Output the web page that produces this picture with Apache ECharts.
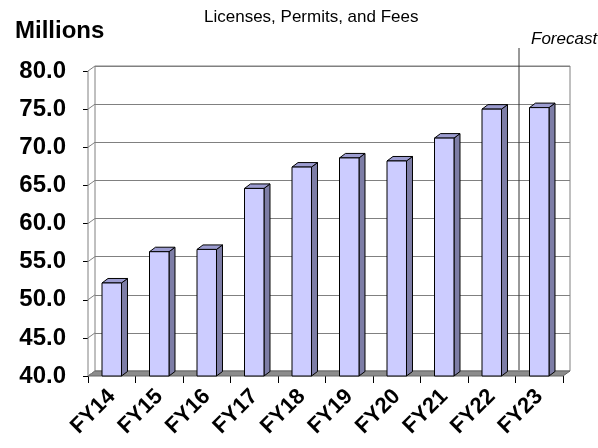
<!DOCTYPE html>
<html>
<head>
<meta charset="utf-8">
<script src="https://cdn.jsdelivr.net/npm/echarts@6/dist/echarts.min.js"></script>
<style>
  html, body { margin: 0; padding: 0; background: #fff; }
  #chart { width: 598px; height: 448px; }
</style>
</head>
<body>
<div id="chart"></div>
<script>
// data
const categories = ['FY14', 'FY15', 'FY16', 'FY17', 'FY18', 'FY19', 'FY20', 'FY21', 'FY22', 'FY23'];
const revenue = [52.2, 56.3, 56.6, 64.6, 67.4, 68.6, 68.2, 71.2, 75.0, 75.2];
const yTicks = [40, 45, 50, 55, 60, 65, 70, 75, 80];
const forecastAfter = 8; // line sits between FY22 and FY23

const FONT = 'Liberation Sans, Arial, sans-serif';
const DX = 7, DY = 5;      // wall depth
const BDX = 6, BDY = 4.5;  // bar depth

const barItem = (params, api) => {
  const top = api.coord([api.value(0), api.value(1)]);
  const base = api.coord([api.value(0), yTicks[0]]);
  const w = api.size([1, 0])[0] * 0.41;
  const l = top[0] - w / 2, r = l + w;
  const line = { stroke: '#000', lineWidth: 1 };
  return {
    type: 'group',
    children: [
      { type: 'polygon', shape: { points: [[r, top[1]], [r + BDX, top[1] - BDY], [r + BDX, base[1] - BDY], [r, base[1]]] },
        style: Object.assign({ fill: '#7d7da6' }, line) },
      { type: 'polygon', shape: { points: [[l, top[1]], [l + BDX, top[1] - BDY], [r + BDX, top[1] - BDY], [r, top[1]]] },
        style: Object.assign({ fill: '#9c9cd0' }, line) },
      { type: 'rect', shape: { x: l, y: top[1], width: w, height: base[1] - top[1] },
        style: Object.assign({ fill: '#ccccff' }, line) }
    ]
  };
};

const wallItem = (params, api) => {
  const cs = params.coordSys;
  const x0 = cs.x, x1 = cs.x + cs.width, yb = cs.y + cs.height;
  const kids = [];
  // floor
  kids.push({ type: 'polygon', shape: { points: [[x0, yb], [x1, yb], [x1 + DX, yb - DY], [x0 + DX, yb - DY]] },
    style: { fill: '#8c8c8c', stroke: '#666', lineWidth: 1 } });
  // left wall
  kids.push({ type: 'line', shape: { x1: x0, y1: cs.y, x2: x0, y2: yb }, style: { stroke: '#808080', lineWidth: 1 } });
  yTicks.forEach(v => {
    const y = api.coord([0, v])[1];
    kids.push({ type: 'line', shape: { x1: x0, y1: y, x2: x0 + DX, y2: y - DY }, style: { stroke: '#808080', lineWidth: 1 } });
  });
  // forecast divider
  const fx = api.coord([forecastAfter, 0])[0] + api.size([1, 0])[0] / 2 + DX / 2;
  kids.push({ type: 'line', shape: { x1: fx, y1: cs.y - 23, x2: fx, y2: yb - 6 }, style: { stroke: '#333', lineWidth: 1 } });
  return { type: 'group', children: kids };
};

const chart = echarts.init(document.getElementById('chart'));
chart.setOption({
  animation: false,
  backgroundColor: '#fff',
  title: [
    { text: 'Licenses, Permits, and Fees', left: 199, top: 4,
      textStyle: { fontFamily: FONT, fontSize: 17, fontWeight: 'normal', color: '#000' } },
    { text: 'Millions', left: 10, top: 14,
      textStyle: { fontFamily: FONT, fontSize: 24, fontWeight: 'bold', color: '#000' } },
    { text: 'Forecast', left: 526, top: 26,
      textStyle: { fontFamily: FONT, fontSize: 17, fontStyle: 'italic', fontWeight: 'normal', color: '#000' } }
  ],
  grid: [
    // back wall
    { left: 95, top: 66, width: 475, height: 305, show: true, backgroundColor: '#fff', borderColor: '#808080', borderWidth: 1 },
    // front plane
    { left: 88, top: 71, width: 475, height: 305 }
  ],
  xAxis: [
    { gridIndex: 0, type: 'category', data: categories, axisLine: { show: false }, axisTick: { show: false }, axisLabel: { show: false } },
    { gridIndex: 1, type: 'category', data: categories,
      axisLine: { show: false },
      axisTick: { show: true, length: 7, lineStyle: { color: '#000' } },
      axisLabel: { rotate: 45, margin: 17, fontFamily: FONT, fontSize: 22, fontWeight: 'bold', color: '#000' } }
  ],
  yAxis: [
    { gridIndex: 0, type: 'value', min: 40, max: 80, interval: 5,
      axisLine: { show: false }, axisTick: { show: false }, axisLabel: { show: false },
      splitLine: { show: true, lineStyle: { color: '#808080', width: 1 } } },
    { gridIndex: 1, type: 'value', min: 40, max: 80, interval: 5,
      axisLine: { show: false },
      axisTick: { show: true, length: 5, lineStyle: { color: '#000' } },
      splitLine: { show: false },
      axisLabel: { margin: 22, formatter: v => v.toFixed(1), fontFamily: FONT, fontSize: 24, fontWeight: 'bold', color: '#000' } }
  ],
  series: [
    { type: 'custom', xAxisIndex: 1, yAxisIndex: 1, renderItem: wallItem, data: [[0, 40]], z: 1, silent: true },
    { type: 'custom', xAxisIndex: 1, yAxisIndex: 1, renderItem: barItem,
      data: revenue.map((v, i) => [i, v]), z: 2 }
  ]
});
</script>
</body>
</html>
